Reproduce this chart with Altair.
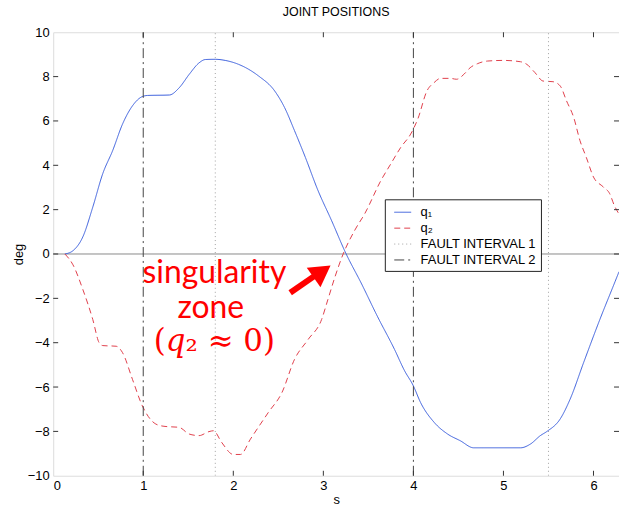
import altair as alt
import pandas as pd

# Joint trajectories (s, degrees)
q1_s = [0.13, 0.22, 0.33, 0.44, 0.55, 0.66, 0.77, 0.88, 0.99, 1.05, 1.29, 1.40, 1.51,
        1.62, 1.69, 1.80, 1.91, 2.06, 2.17, 2.28, 2.46, 2.57, 2.68, 2.80, 2.94, 3.09,
        3.25, 3.42, 3.60, 3.79, 3.90, 4.00, 4.08, 4.23, 4.38, 4.52, 4.67, 5.19, 5.30,
        5.41, 5.48, 5.63, 5.74, 5.89, 6.07, 6.24, 6.2832]
q1_deg = [0.0, 0.15, 0.78, 2.12, 3.62, 4.66, 5.86, 6.68, 7.10, 7.15, 7.17, 7.5, 8.1,
          8.62, 8.77, 8.78, 8.73, 8.55, 8.33, 8.03, 7.35, 6.6, 5.56, 4.36, 2.87, 1.52,
          0.03, -1.31, -2.81, -4.30, -5.25, -5.95, -6.70, -7.59, -8.12, -8.42, -8.74, -8.74, -8.57,
          -8.19, -8.01, -7.44, -6.55, -4.9, -2.96, -1.24, -0.80]

q2_s = [0.13, 0.22, 0.33, 0.44, 0.51, 0.55, 0.70, 0.77, 0.88, 0.99, 1.14, 1.23, 1.40,
        1.51, 1.62, 1.73, 1.78, 1.87, 2.00, 2.08, 2.19, 2.39, 2.54, 2.68, 2.83, 2.98,
        3.05, 3.13, 3.22, 3.35, 3.46, 3.64, 3.75, 3.86, 3.97, 4.05, 4.15, 4.23, 4.30,
        4.41, 4.48, 4.56, 4.63, 4.71, 4.82, 5.00, 5.19, 5.26, 5.35, 5.44, 5.55, 5.63,
        5.70, 5.78, 5.85, 5.92, 6.00, 6.11, 6.18, 6.23, 6.2832]
q2_deg = [0.0, -0.49, -1.61, -2.96, -4.0, -4.13, -4.16, -4.45, -5.65, -6.85, -7.67, -7.77, -7.82,
          -8.12, -8.19, -8.01, -7.97, -8.49, -9.04, -9.04, -8.35, -7.14, -6.25, -4.75, -3.86, -2.96,
          -2.06, -1.02, 0.0, 1.08, 1.82, 3.32, 4.07, 4.81, 5.41, 6.1, 7.35, 7.73, 7.92,
          7.92, 7.88, 8.1, 8.4, 8.58, 8.7, 8.73, 8.67, 8.55, 8.18, 7.8, 7.77, 7.58,
          6.91, 6.16, 5.11, 4.36, 3.47, 3.02, 2.72, 2.2, 1.8]

# Fault interval markers (s)
fault1_s = [1.8, 5.5]
fault2_s = [1.0, 4.0]

series_names = ["q\u2081", "q\u2082", "FAULT INTERVAL 1", "FAULT INTERVAL 2"]
series_colors = ["#3b5fdc", "#e0404c", "#a0a0a0", "#444444"]
series_dash = [[1, 0], [6, 4], [1, 3], [10, 4, 2, 4]]

x_ticks = [0, 1, 2, 3, 4, 5, 6]
y_ticks = [-10, -8, -6, -4, -2, 0, 2, 4, 6, 8, 10]

# Annotation
note_text = ["singularity", "zone"]
note_s = [1.79, 1.75]
note_deg = [-1.30, -2.87]
math_text = ["(\U0001D45E\u2082 \u2248 0)"]
math_s = [1.79]
math_deg = [-4.39]
arrow_s = [2.632, 2.919]
arrow_deg = [-1.749, -0.942]
head_s = [2.986]
head_deg = [-0.79]

W, H = 569, 446
XMAX = 6.2832
FONT = "Liberation Sans"

rows = []
for s, v in zip(q1_s, q1_deg):
    rows.append({"s": s, "deg": v, "series": series_names[0], "seg": "q1", "o": s})
for s, v in zip(q2_s, q2_deg):
    rows.append({"s": s, "deg": v, "series": series_names[1], "seg": "q2", "o": s})
for i, x in enumerate(fault1_s):
    for v in (-10, 10):
        rows.append({"s": x, "deg": v, "series": series_names[2], "seg": f"f1_{i}", "o": v})
for i, x in enumerate(fault2_s):
    for v in (-10, 10):
        rows.append({"s": x, "deg": v, "series": series_names[3], "seg": f"f2_{i}", "o": v})
df = pd.DataFrame(rows)

X = alt.X("s:Q", scale=alt.Scale(domain=[0, XMAX], nice=False, zero=False),
          axis=alt.Axis(values=x_ticks, ticks=False, domain=False, grid=False,
                        labelPadding=4, labelFontSize=13, labelFont=FONT, labelColor="#000",
                        title="s", titleFont=FONT, titleFontSize=13, titleFontWeight="normal",
                        titleX=W / 2, titleY=28, titleBaseline="alphabetic", titleColor="#000"))
Y = alt.Y("deg:Q", scale=alt.Scale(domain=[-10, 10], nice=False, zero=False),
          axis=alt.Axis(values=y_ticks, ticks=False, domain=False, grid=False,
                        labelPadding=4, labelFontSize=13, labelFont=FONT, labelColor="#000",
                        title="deg", titleFont=FONT, titleFontSize=13, titleFontWeight="normal",
                        titleAngle=-90, titleX=-35, titleY=H / 2, titleBaseline="middle",
                        titleAlign="center", titleColor="#000"))

zero_line = alt.Chart(pd.DataFrame({"deg": [0]})).mark_rule(
    color="#8a8a8a", strokeWidth=1).encode(y=Y)

lines = alt.Chart(df).mark_line(strokeWidth=1, clip=True, interpolate="monotone").encode(
    x=X, y=Y,
    color=alt.Color("series:N",
                    scale=alt.Scale(domain=series_names, range=series_colors),
                    legend=alt.Legend(orient="none", legendX=333.5, legendY=168,
                                      title=None, symbolType="stroke", symbolSize=289,
                                      symbolStrokeWidth=1, labelFont=FONT,
                                      labelFontSize=13, labelColor="#000", labelOffset=9,
                                      strokeColor="#222", fillColor="white",
                                      padding=4, rowPadding=0, symbolOffset=5,
                                      cornerRadius=0)),
    strokeDash=alt.StrokeDash("series:N",
                              scale=alt.Scale(domain=series_names, range=series_dash),
                              legend=None),
    detail="seg:N",
    order="o:Q",
)

xt = alt.Chart(pd.DataFrame({"s": x_ticks[1:]}))
yt = alt.Chart(pd.DataFrame({"deg": y_ticks[1:-1]}))
tick_col = "#333333"
ticks = alt.layer(
    xt.mark_rule(color=tick_col).encode(x=X, y=alt.value(H), y2=alt.value(H - 5)),
    xt.mark_rule(color=tick_col).encode(x=X, y=alt.value(0), y2=alt.value(5)),
    yt.mark_rule(color=tick_col).encode(y=Y, x=alt.value(0), x2=alt.value(5)),
    yt.mark_rule(color=tick_col).encode(y=Y, x=alt.value(W), x2=alt.value(W - 5)),
)

notes = alt.Chart(pd.DataFrame({"s": note_s, "deg": note_deg, "t": note_text})).mark_text(
    font="Lato", fontSize=32, color="#ff0000", align="center", baseline="alphabetic"
).encode(x=X, y=Y, text="t:N")

math = alt.Chart(pd.DataFrame({"s": math_s, "deg": math_deg, "t": math_text})).mark_text(
    font="DejaVu Serif", fontSize=31, color="#ff0000", align="center", baseline="alphabetic"
).encode(x=X, y=Y, text="t:N")

arrow = alt.Chart(pd.DataFrame({"s": arrow_s, "deg": arrow_deg})).mark_line(
    color="#ff0000", strokeWidth=6, strokeCap="butt").encode(x=X, y=Y)
head = alt.Chart(pd.DataFrame({"s": head_s, "deg": head_deg})).mark_point(
    shape="triangle-up", filled=True, size=576, angle=55, color="#ff0000", opacity=1,
    strokeWidth=0).encode(x=X, y=Y)

chart = alt.layer(zero_line, lines, ticks, arrow, head, notes, math).properties(
    width=W, height=H,
    title=alt.Title("JOINT POSITIONS", font=FONT, fontSize=12.5, fontWeight="normal",
                    color="#000", offset=8, anchor="middle"),
    autosize=alt.AutoSizeParams(type="none"),
    padding={"left": 53.5, "top": 31, "right": 0, "bottom": 30},
).configure_view(stroke="#222222", strokeWidth=1).configure(background="white")

chart.save("out.html", embed_options={"renderer": "svg", "actions": False})
